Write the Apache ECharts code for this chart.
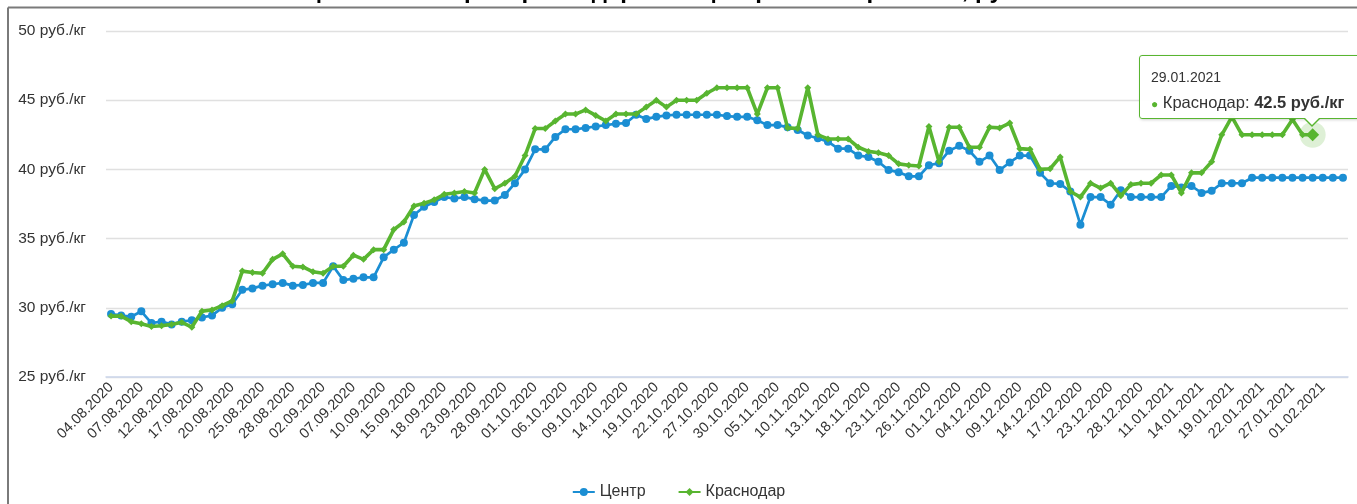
<!DOCTYPE html>
<html>
<head>
<meta charset="utf-8">
<title>Цены</title>
<script src="https://cdn.jsdelivr.net/npm/echarts/dist/echarts.min.js"></script>
<style>
    html, body { margin: 0; padding: 0; overflow: hidden; background: #fff; }
    #main { width: 1357px; height: 504px; }
    .hc-tip::before {
        content: ''; position: absolute; left: 164px; bottom: -9px;
        border-left: 8px solid transparent; border-right: 8px solid transparent;
        border-top: 8px solid #58b530;
    }
    .hc-tip::after {
        content: ''; position: absolute; left: 165px; bottom: -7px;
        border-left: 7px solid transparent; border-right: 7px solid transparent;
        border-top: 7px solid #fff;
    }
</style>
</head>
<body>
<div id="main"></div>
<script>
    // даты (рабочие дни)
    var categories = [
        '04.08.2020','05.08.2020','06.08.2020','07.08.2020','10.08.2020','11.08.2020','12.08.2020','13.08.2020','14.08.2020','17.08.2020',
        '18.08.2020','19.08.2020','20.08.2020','21.08.2020','24.08.2020','25.08.2020','26.08.2020','27.08.2020','28.08.2020','31.08.2020',
        '01.09.2020','02.09.2020','03.09.2020','04.09.2020','07.09.2020','08.09.2020','09.09.2020','10.09.2020','11.09.2020','14.09.2020',
        '15.09.2020','16.09.2020','17.09.2020','18.09.2020','21.09.2020','22.09.2020','23.09.2020','24.09.2020','25.09.2020','28.09.2020',
        '29.09.2020','30.09.2020','01.10.2020','02.10.2020','05.10.2020','06.10.2020','07.10.2020','08.10.2020','09.10.2020','12.10.2020',
        '13.10.2020','14.10.2020','15.10.2020','16.10.2020','19.10.2020','20.10.2020','21.10.2020','22.10.2020','23.10.2020','26.10.2020',
        '27.10.2020','28.10.2020','29.10.2020','30.10.2020','02.11.2020','03.11.2020','05.11.2020','06.11.2020','09.11.2020','10.11.2020',
        '11.11.2020','12.11.2020','13.11.2020','16.11.2020','17.11.2020','18.11.2020','19.11.2020','20.11.2020','23.11.2020','24.11.2020',
        '25.11.2020','26.11.2020','27.11.2020','30.11.2020','01.12.2020','02.12.2020','03.12.2020','04.12.2020','07.12.2020','08.12.2020',
        '09.12.2020','10.12.2020','11.12.2020','14.12.2020','15.12.2020','16.12.2020','17.12.2020','18.12.2020','22.12.2020','23.12.2020',
        '24.12.2020','25.12.2020','28.12.2020','29.12.2020','30.12.2020','11.01.2021','12.01.2021','13.01.2021','14.01.2021','15.01.2021',
        '18.01.2021','19.01.2021','20.01.2021','21.01.2021','22.01.2021','25.01.2021','26.01.2021','27.01.2021','28.01.2021','29.01.2021',
        '01.02.2021','02.02.2021','03.02.2021'
    ];

    var centr = [
        29.55, 29.45, 29.35, 29.75, 28.9, 29.0, 28.8, 29.0, 29.1, 29.3,
        29.45, 30.0, 30.25, 31.3, 31.4, 31.6, 31.7, 31.8, 31.6, 31.65,
        31.8, 31.8, 33.0, 32.0, 32.1, 32.2, 32.2, 33.65, 34.2, 34.7,
        36.7, 37.3, 37.65, 38.0, 37.9, 38.0, 37.85, 37.75, 37.75, 38.15,
        39.0, 40.0, 41.45, 41.45, 42.35, 42.9, 42.9, 43.0, 43.1, 43.2,
        43.3, 43.35, 43.95, 43.65, 43.8, 43.9, 43.95, 43.95, 43.95, 43.95,
        43.95, 43.85, 43.8, 43.8, 43.55, 43.2, 43.2, 43.05, 42.85, 42.45,
        42.25, 42.0, 41.5, 41.5, 41.0, 40.9, 40.55, 39.95, 39.8, 39.5,
        39.5, 40.3, 40.45, 41.35, 41.7, 41.35, 40.55, 41.0, 39.95, 40.5,
        41.0, 41.0, 39.75, 39.0, 38.95, 38.4, 36.0, 38.0, 38.0, 37.45,
        38.5, 38.0, 38.0, 38.0, 38.0, 38.8, 38.7, 38.8, 38.3, 38.45,
        39.0, 39.0, 39.0, 39.4, 39.4, 39.4, 39.4, 39.4, 39.4, 39.4,
        39.4, 39.4, 39.4
    ];

    var krasnodar = [
        29.4, 29.4, 29.0, 28.85, 28.65, 28.7, 28.8, 28.95, 28.6, 29.75,
        29.85, 30.15, 30.5, 32.65, 32.55, 32.5, 33.5, 33.9, 33.0, 32.95,
        32.6, 32.5, 33.0, 33.0, 33.8, 33.5, 34.2, 34.2, 35.65, 36.2,
        37.35, 37.55, 37.8, 38.2, 38.3, 38.4, 38.3, 40.0, 38.6, 39.0,
        39.5, 41.0, 42.95, 42.95, 43.5, 44.0, 44.0, 44.3, 43.9, 43.5,
        44.0, 44.0, 44.0, 44.5, 45.0, 44.5, 45.0, 45.0, 45.0, 45.5,
        45.9, 45.9, 45.9, 45.9, 44.0, 45.9, 45.9, 43.0, 42.95, 45.9,
        42.5, 42.2, 42.2, 42.2, 41.6, 41.3, 41.2, 41.0, 40.4, 40.3,
        40.25, 43.1, 40.55, 43.05, 43.05, 41.6, 41.6, 43.05, 43.0, 43.35,
        41.5, 41.45, 40.0, 40.05, 40.9, 38.4, 38.0, 39.0, 38.65, 39.0,
        38.1, 38.9, 39.0, 39.0, 39.6, 39.6, 38.3, 39.75, 39.75, 40.55,
        42.5, 43.8, 42.5, 42.5, 42.5, 42.5, 42.5, 43.6, 42.5, 42.5
    ];

    var yTicks = { min: 25, max: 50, step: 5 };
    var unit = ' руб./кг';
    var tipIdx = 119; // точка, над которой показана подсказка
    var blue = '#1b8ed3', green = '#58b530';
    var font = '"Liberation Sans", Arial, sans-serif';

    var myChart = echarts.init(document.getElementById('main'));
    var option = {
        animation: false,
        textStyle: { fontFamily: font },
        graphic: [
            {
                type: 'text', x: 678, y: 3,
                style: {
                    text: 'Цены на сахар в Краснодаре и в Центральном регионе, руб./кг',
                    font: 'bold 24px ' + font, fill: '#000',
                    textAlign: 'center', textVerticalAlign: 'bottom'
                }
            },
            { type: 'line', shape: { x1: 8, y1: 7.5, x2: 1357, y2: 7.5 }, style: { stroke: '#7a7a7a', lineWidth: 2 } },
            { type: 'line', shape: { x1: 8, y1: 7.5, x2: 8, y2: 504 }, style: { stroke: '#7a7a7a', lineWidth: 2 } }
        ],
        grid: { left: 106, right: 9, top: 31, bottom: 127 },
        legend: {
            data: ['Центр', 'Краснодар'],
            top: 479,
            left: 'center',
            itemGap: 32,
            itemWidth: 22,
            itemHeight: 10,
            textStyle: { fontSize: 16, color: '#333' }
        },
        tooltip: {
            trigger: 'item',
            alwaysShowContent: true,
            triggerOn: 'none',
            transitionDuration: 0,
            className: 'hc-tip',
            backgroundColor: 'rgba(255,255,255,0.96)',
            borderColor: green,
            borderWidth: 1,
            padding: [12, 20, 4, 11],
            extraCssText: 'box-shadow:1px 1px 3px rgba(0,0,0,0.18);border-radius:3px;',
            textStyle: { color: '#333', fontFamily: font },
            position: function (pt) {
                return [pt[0] - 174, pt[1] - 80];
            },
            formatter: function (p) {
                return '<div style="font-size:14px;line-height:18px;margin-bottom:6px">' + p.name + '</div>' +
                    '<div style="font-size:16.5px;line-height:20px;white-space:nowrap">' +
                    '<span style="color:' + p.color + ';font-size:12px">&#9679;</span> ' +
                    p.seriesName + ': <b>' + p.value + unit + '</b></div>';
            }
        },
        xAxis: {
            type: 'category',
            data: categories,
            boundaryGap: true,
            axisLine: { lineStyle: { color: '#ccd6eb', width: 1.5 } },
            axisTick: { alignWithLabel: true, interval: 2, length: 6, lineStyle: { color: '#ccd6eb', width: 1.3 } },
            axisLabel: { interval: 2, rotate: 45, margin: 8, fontSize: 14.5, color: '#333' },
            splitLine: { show: false }
        },
        yAxis: {
            type: 'value',
            min: yTicks.min,
            max: yTicks.max,
            interval: yTicks.step,
            axisLine: { show: false },
            axisTick: { show: false },
            axisLabel: { formatter: '{value}' + unit, fontSize: 15.5, color: '#333', margin: 20 },
            splitLine: { lineStyle: { color: '#e0e0e0', width: 1.3 } }
        },
        series: [
            {
                name: 'Центр',
                type: 'line',
                data: centr,
                color: blue,
                symbol: 'circle',
                symbolSize: 8,
                showAllSymbol: true,
                lineStyle: { width: 2.7 },
                z: 2
            },
            {
                name: 'Краснодар',
                type: 'line',
                data: krasnodar,
                color: green,
                symbol: 'diamond',
                symbolSize: function (v, p) { return p.dataIndex === tipIdx ? 13 : 7; },
                showAllSymbol: true,
                lineStyle: { width: 3.6 },
                z: 3
            },
            {
                // ореол вокруг выделенной точки
                name: 'halo',
                type: 'scatter',
                data: [[categories[tipIdx], krasnodar[tipIdx]]],
                symbolSize: 26,
                itemStyle: { color: 'rgba(88,181,48,0.25)' },
                silent: true,
                tooltip: { show: false },
                z: 1
            }
        ]
    };
    myChart.setOption(option);
    myChart.dispatchAction({ type: 'showTip', seriesIndex: 1, dataIndex: tipIdx });
</script>
</body>
</html>
